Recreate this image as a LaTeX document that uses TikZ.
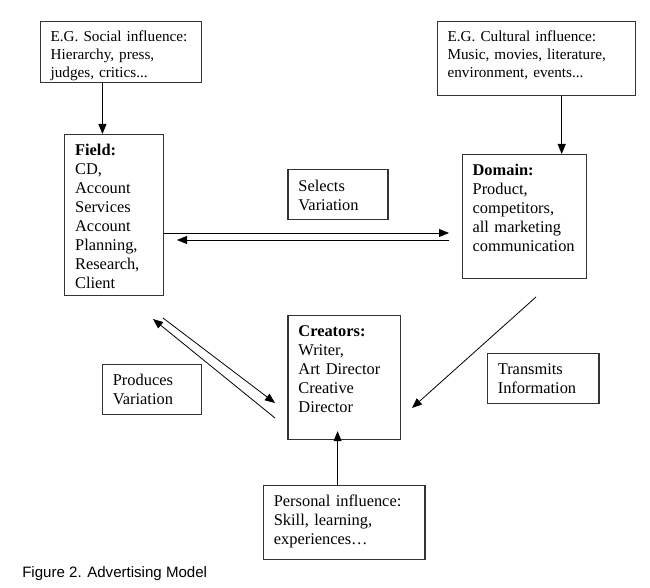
\documentclass[tikz,border=0pt]{standalone}
\usepackage{fontspec}
\setmainfont{Liberation Serif}
\newfontfamily\captionfont{Liberation Sans}
\usepackage{tikz}
\usetikzlibrary{arrows.meta, calc}
\newcommand{\boxfont}{\fontsize{12.3}{14.25}\selectfont}
\newcommand{\smallboxfont}{\fontsize{11.4}{13.5}\selectfont}
\tikzset{
  box/.style={draw=black!80, line width=0.9pt, anchor=north west, align=left,
    inner xsep=7.9pt, inner ysep=0pt, text height=16pt, font=\boxfont},
  smallbox/.style={box, inner xsep=7.5pt, text height=14.8pt, font=\smallboxfont},
  arr/.style={-{Triangle[length=7.5pt, width=6pt]}, line width=0.6pt},
}

\begin{document}
\begin{tikzpicture}[x=0.75pt, y=-0.75pt]
  \useasboundingbox (0,0) rectangle (650,588);
  % influences
  \node[smallbox, text width=105.75pt, text depth=31pt] (social) at (40,21)
    {E.G. Social influence:\\ Hierarchy, press,\\ judges, critics...};
  \node[smallbox, text width=133.5pt, text depth=40.7pt] (cultural) at (437,21)
    {E.G. Cultural influence:\\ Music, movies, literature,\\ environment, events...};
  \node[box, text width=105.4pt, text depth=39.7pt] (personal) at (262.7,485)
    {Personal influence:\\ Skill, learning,\\ experiences…};
  % main boxes
  \node[box, text width=58.45pt, text depth=104.75pt] (field) at (64,134)
    {\textbf{Field:}\\ CD,\\ Account\\ Services\\ Account\\ Planning,\\ Research,\\ Client};
  \node[box, text width=77.2pt, text depth=77pt] (domain) at (461.5,154)
    {\textbf{Domain:}\\ Product,\\ competitors,\\ all marketing\\ communication};
  \node[box, text width=68.7pt, text depth=77pt] (creators) at (287.3,315)
    {\textbf{Creators:}\\ Writer,\\ Art Director\\ Creative\\ Director};
  % labels
  \node[box, text width=59.2pt, text depth=21.5pt] (selects) at (287.3,169.3)
    {Selects\\ Variation};
  \node[box, text width=58.7pt, text depth=21.5pt] (produces) at (101.7,364)
    {Produces\\ Variation};
  \node[box, text width=67.9pt, text depth=21.5pt] (transmits) at (486.7,352.7)
    {Transmits\\ Information};
  % vertical arrows
  \coordinate (s1) at ($(social.south west)!0.385!(social.south east)$);
  \draw[arr] (s1) -- (s1 |- field.north);
  \coordinate (c1) at ($(cultural.south west)!0.626!(cultural.south east)$);
  \draw[arr] (c1) -- (c1 |- domain.north);
  \coordinate (p1) at ($(personal.north west)!0.46!(personal.north east)$);
  \draw[arr] (p1) -- ($(p1 |- creators.south)+(0,-9)$);
  % field <-> domain
  \coordinate (fd1) at (449,233);
  \coordinate (fd2) at (449,240);
  \coordinate (fd3) at (177,240);
  \draw[arr] (fd1 -| field.east) -- (fd1);
  \draw[arr] (fd2) -- (fd3);
  % field <-> creators
  \coordinate (fc1) at (163,318);
  \coordinate (fc2) at (275,403);
  \coordinate (fc3) at (275,418);
  \coordinate (fc4) at (153,319);
  \draw[arr] (fc1) -- (fc2);
  \draw[arr] (fc3) -- (fc4);
  % domain -> creators
  \coordinate (dc1) at (536,297);
  \coordinate (dc2) at (412,408);
  \draw[arr] (dc1) -- (dc2);
  % caption
  \node[anchor=base west, inner sep=0pt, font=\captionfont\fontsize{11.3}{13}\selectfont] (caption) at (22,577)
    {Figure 2. Advertising Model};
\end{tikzpicture}
\end{document}
